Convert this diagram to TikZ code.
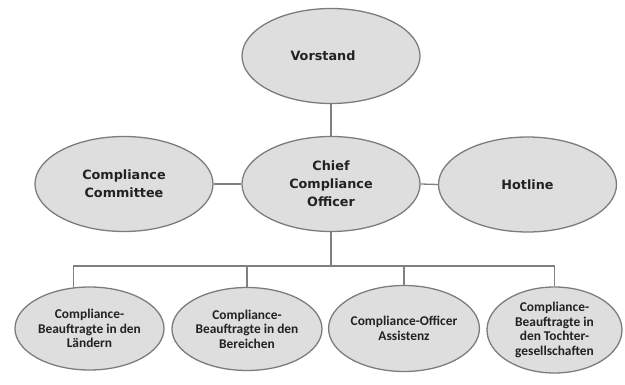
\documentclass[tikz,border=0pt]{standalone}
\usepackage{fontspec}
\usetikzlibrary{shapes.geometric}
\newfontfamily\upperfont{DejaVu Sans}
\newfontfamily\lowerfont{Carlito}
\definecolor{ovalfill}{HTML}{DEDEDE}
\definecolor{ovalline}{HTML}{7C7C7C}
\definecolor{linkline}{HTML}{808080}
\definecolor{labeltext}{HTML}{222222}
\tikzset{
  oval/.style={ellipse, draw=ovalline, fill=ovalfill, line width=1.3pt,
    inner sep=0pt, align=center, text=labeltext},
  bigoval/.style={oval, minimum width=178pt, minimum height=95pt,
    font=\upperfont\bfseries\fontsize{12.8}{18}\selectfont},
  smalloval/.style={oval, minimum width=149pt, minimum height=83pt,
    font=\lowerfont\bfseries\fontsize{13.4}{14.5}\selectfont},
  conn/.style={draw=linkline, line width=1.3pt}
}
\begin{document}
\begin{tikzpicture}[x=1pt, y=-1pt]
  \useasboundingbox (0,0) rectangle (625,385);

  % upper levels
  \node[bigoval] (vorstand) at (331,56) {\hspace*{-16pt}Vorstand};
  \node[bigoval] (cco) at (331,184) {Chief\\Compliance\\Officer};
  \node[bigoval] (committee) at (124,184) {Compliance\\Committee};
  \node[bigoval] (hotline) at (527.5,184.5) {Hotline};

  % lower level
  \node[smalloval] (laender) at (89.5,328.5) {Compliance-\\Beauftragte in den\\Ländern};
  \node[smalloval, minimum width=150pt] (bereiche) at (247,329) {Compliance-\\Beauftragte in den\\Bereichen};
  \node[smalloval, minimum width=148pt, minimum height=86pt] (assistenz) at (404,328.5) {Compliance-Officer\\Assistenz};
  \node[smalloval, minimum width=135pt, minimum height=86pt] (tochter) at (554.5,330) {Compliance-\\Beauftragte in\\den Tochter-\\gesellschaften};

  \coordinate (bus) at (331,266);

  % connectors
  \draw[conn] (vorstand.south) -- (cco.north);
  \draw[conn] (committee.east) -- (cco.west);
  \draw[conn] (cco.east) -- (hotline.west);
  \draw[conn] (cco.south) -- (bus);
  \draw[conn] (laender.111) |- (bus) -| (tochter.north);
  \draw[conn] (bereiche.north) -- (bereiche.north |- bus);
  \draw[conn] (assistenz.north) -- (assistenz.north |- bus);
\end{tikzpicture}
\end{document}
